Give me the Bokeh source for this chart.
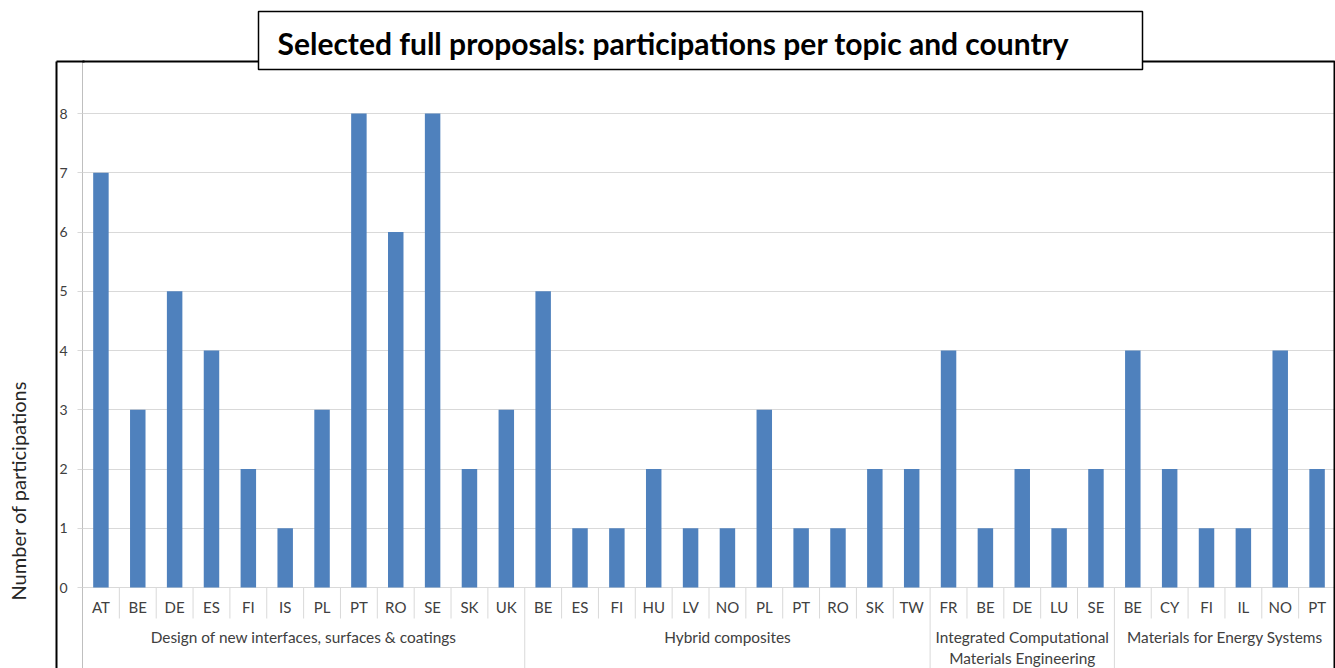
import math
from bokeh.plotting import figure
from bokeh.models import (FactorRange, Range1d, FixedTicker, ColumnDataSource,
                          BoxAnnotation, Label, LinearAxis, Title,
                          PrintfTickFormatter)
from bokeh.core.properties import value
from bokeh.embed import file_html
from bokeh.resources import INLINE

# ---------------- data ----------------
topics = ["Design of new interfaces, surfaces & coatings",
          "Hybrid composites",
          "Integrated Computational Materials Engineering",
          "Materials for Energy Systems"]
topic_labels = ["Design of new interfaces, surfaces & coatings",
                "Hybrid composites",
                "Integrated Computational\nMaterials Engineering",
                "Materials for Energy Systems"]

design_countries = ["AT", "BE", "DE", "ES", "FI", "IS", "PL", "PT", "RO", "SE", "SK", "UK"]
design_values = [7, 3, 5, 4, 2, 1, 3, 8, 6, 8, 2, 3]
hybrid_countries = ["BE", "ES", "FI", "HU", "LV", "NO", "PL", "PT", "RO", "SK", "TW"]
hybrid_values = [5, 1, 1, 2, 1, 1, 3, 1, 1, 2, 2]
icme_countries = ["FR", "BE", "DE", "LU", "SE"]
icme_values = [4, 1, 2, 1, 2]
energy_countries = ["BE", "CY", "FI", "IL", "NO", "PT"]
energy_values = [4, 2, 1, 1, 4, 2]

y_ticks = [0, 1, 2, 3, 4, 5, 6, 7, 8]

title_text = "Selected full proposals: participations per topic and country"
y_title = "Number of participations"

# ---------------- build tables ----------------
groups = [(topics[0], design_countries, design_values),
          (topics[1], hybrid_countries, hybrid_values),
          (topics[2], icme_countries, icme_values),
          (topics[3], energy_countries, energy_values)]

factors, vals, countries = [], [], []
short_sep, long_sep = [], []
for gi, (g, cs, vs) in enumerate(groups):
    for ci, (c, v) in enumerate(zip(cs, vs)):
        factors.append((g, c))
        vals.append(v)
        countries.append(c)
        if ci < len(cs) - 1:
            short_sep.append((g, c, 0.5))
        elif gi < len(groups) - 1:
            long_sep.append((g, c, 0.5))

# ---------------- layout constants (page px) ----------------
W, H = 1335, 668
FRAME_L = 82
N = len(factors)
CAT_PX = (W - FRAME_L) / N
Y0_PX, UNIT_PX = 587, 59.25          # page y of value 0, px per unit


def xd(px):
    return (px - FRAME_L) / CAT_PX


def yd(py):
    return (Y0_PX - py) / UNIT_PX


y_top = yd(0)
y_bot = yd(H)
y_box = yd(61)

p = figure(width=W, height=H, output_backend="svg", toolbar_location=None,
           x_range=FactorRange(*factors, factor_padding=0, group_padding=0,
                               subgroup_padding=0, range_padding=0),
           y_range=Range1d(y_bot, y_top),
           x_axis_location=None, title_location=None,
           min_border_left=FRAME_L, min_border_top=0,
           min_border_right=0, min_border_bottom=0)
p.outline_line_color = None
p.background_fill_color = "white"
p.border_fill_color = "white"

# y axis (grey rule, ticks, labels)
tick = FixedTicker(ticks=y_ticks)
ax = p.yaxis[0]
ax.ticker = tick
ax.bounds = (y_bot, y_box)
ax.axis_line_color = "#BFBFBF"
ax.major_tick_line_color = "#D9D9D9"
ax.major_tick_out = 5
ax.major_tick_in = 0
ax.minor_tick_line_color = None
ax.major_label_standoff = 10
ax.major_label_text_font = "Lato"
ax.major_label_text_font_size = "14px"
ax.major_label_text_color = "#404040"
p.ygrid.ticker = tick
p.xgrid.visible = False
p.ygrid.grid_line_color = "#D9D9D9"

# outer black frame, left part (an axis rule plus a tick forming the corner)
frame_axis = LinearAxis(ticker=FixedTicker(ticks=[y_box - 1e-9]),
                        bounds=(y_bot, y_box),
                        formatter=PrintfTickFormatter(format=""),
                        axis_line_color="black", axis_line_width=2,
                        major_tick_in=28, major_tick_out=0,
                        major_tick_line_color="black", major_tick_line_width=2,
                        minor_tick_line_color=None,
                        major_label_standoff=0,
                        major_label_text_font_size="0px")
p.add_layout(frame_axis, "left")

# y axis title (trailing empty line pushes the text away from the frame)
p.add_layout(Title(text=y_title + "\n", align="left", offset=H - 600,
                   text_font="Lato", text_font_style="normal",
                   text_font_size="20px", text_color="#262626",
                   standoff=6), "left")

# bars
src = ColumnDataSource(dict(x=factors, v=vals, c=countries))
p.vbar(x="x", top="v", bottom=0, width=0.42, source=src,
       fill_color="#4F81BD", line_color=None)

# separators
p.segment(x0=short_sep, y0=[0] * len(short_sep), x1=short_sep,
          y1=[yd(618)] * len(short_sep), line_color="#D9D9D9", line_width=1)
p.segment(x0=long_sep, y0=[0] * len(long_sep), x1=long_sep,
          y1=[y_bot] * len(long_sep), line_color="#D9D9D9", line_width=1)

# category labels
p.text(x="x", y=yd(606), text="c", source=src, text_align="center",
       text_baseline="middle", text_font=value("Lato"),
       text_font_size="15px", text_color="#404040")
gsrc = ColumnDataSource(dict(x=topics, t=topic_labels))
p.text(x="x", y=yd(627), text="t", source=gsrc, text_align="center",
       text_baseline="top", text_font=value("Lato"), text_font_size="15.4px",
       text_color="#404040", text_line_height=1.2)

# outer black frame: top and right edges
p.add_layout(BoxAnnotation(left=xd(40), right=xd(1334), top=y_box,
                           bottom=yd(760), fill_color=None, fill_alpha=0,
                           line_color="black", line_alpha=1,
                           line_width=2, level="overlay"))
# title box
p.add_layout(BoxAnnotation(left=xd(258), right=xd(1142), top=yd(11),
                           bottom=yd(69), fill_color="white", fill_alpha=1,
                           line_color="black", line_alpha=1,
                           line_width=1.5, level="overlay"))
p.add_layout(Label(x=xd(277), y=yd(42), text=title_text, text_font="Lato",
                   text_font_style="bold", text_font_size="30px",
                   text_color="black", text_align="left",
                   text_baseline="middle", level="overlay"))

open("out.html", "w").write(file_html(p, INLINE))
